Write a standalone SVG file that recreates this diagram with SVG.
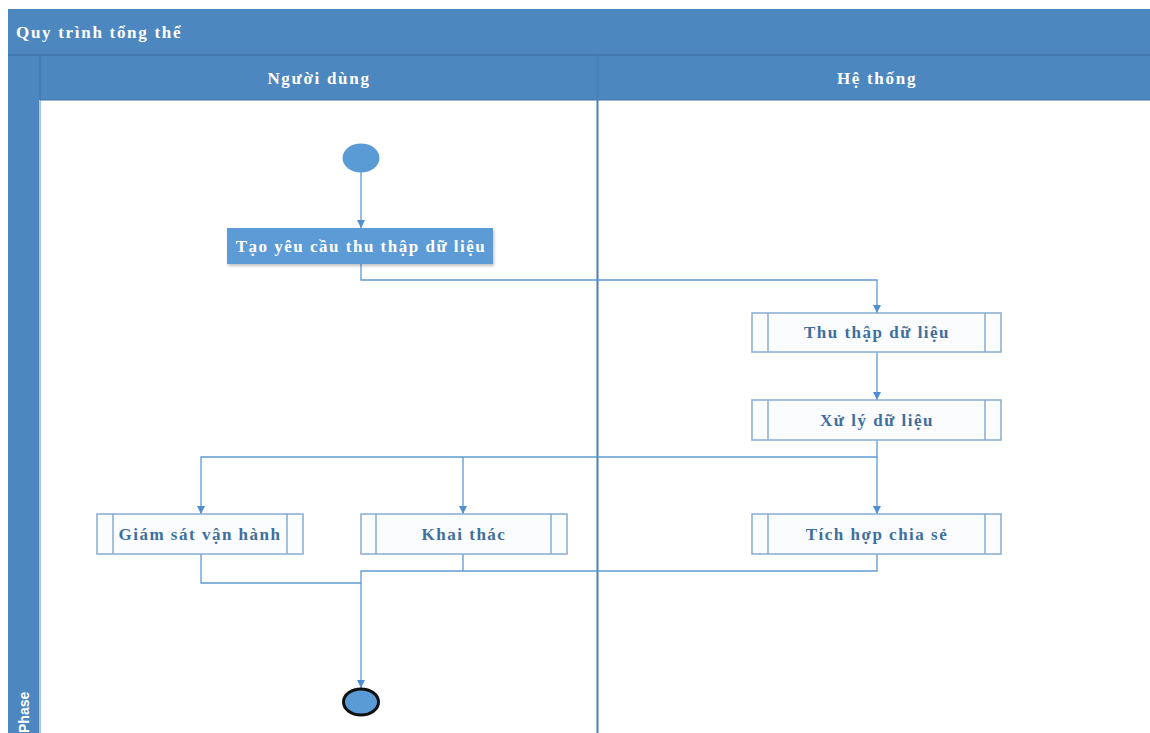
<svg xmlns="http://www.w3.org/2000/svg" width="1150" height="733" viewBox="0 0 1150 733">
<style>
.hdr{fill:#4d87bf}
.ttl{font-family:"Liberation Serif",serif;font-weight:bold;font-size:17px;fill:#ffffff;letter-spacing:1.7px}
.sub{fill:#fbfcfe;stroke:#88acd2;stroke-width:1.5}
.inner{stroke:#88acd2;stroke-width:1.5}
.lbl{font-family:"Liberation Serif",serif;font-weight:bold;font-size:17px;fill:#3e6f9e;letter-spacing:1.5px;text-anchor:middle}
.con{fill:none;stroke:#5f9ad2;stroke-width:1.3}
</style>
<defs>
<marker id="arr" viewBox="0 0 10 10" refX="10" refY="5" markerWidth="10" markerHeight="8" markerUnits="userSpaceOnUse" orient="auto">
<path d="M0,0 L10,5 L0,10 Z" fill="#4f8fcf"/>
</marker>
<filter id="sh" x="-10%" y="-20%" width="120%" height="150%">
<feDropShadow dx="1" dy="2" stdDeviation="1.5" flood-color="#000" flood-opacity="0.25"/>
</filter>
</defs>
<rect width="1150" height="733" fill="#ffffff"/>
<g id="pool">
<rect x="8" y="9" width="1142" height="724" class="hdr"/>
<rect x="40" y="100" width="1110" height="633" fill="#ffffff"/>
<line x1="40" y1="100" x2="40" y2="733" stroke="#a9c6e4" stroke-width="2"/>
<line x1="8" y1="55" x2="1150" y2="55" stroke="#3f73a8" stroke-width="1.5"/>
<line x1="40" y1="55" x2="40" y2="100" stroke="#3f73a8" stroke-width="1"/>
<line x1="40" y1="100" x2="1150" y2="100" stroke="#3f73a8" stroke-width="1"/>
<line x1="597.5" y1="55" x2="597.5" y2="733" stroke="#4a80b8" stroke-width="2"/>
<text x="16" y="38" class="ttl">Quy trình tổng thể</text>
<text x="319" y="84" class="ttl" text-anchor="middle">Người dùng</text>
<text x="877" y="84" class="ttl" text-anchor="middle">Hệ thống</text>
<text transform="translate(29,733) rotate(-90)" x="0" y="0" font-family="'Liberation Sans',sans-serif" font-weight="bold" font-size="14" fill="#ffffff">Phase</text>
</g>
<g id="connectors">
<line x1="361" y1="172" x2="361" y2="228" class="con" marker-end="url(#arr)"/>
<polyline points="361,264 361,280 877,280 877,313" class="con" marker-end="url(#arr)"/>
<line x1="877" y1="352" x2="877" y2="400" class="con" marker-end="url(#arr)"/>
<polyline points="877,440 877,457 201,457 201,514" class="con" marker-end="url(#arr)"/>
<line x1="463" y1="457" x2="463" y2="514" class="con" marker-end="url(#arr)"/>
<line x1="877" y1="457" x2="877" y2="514" class="con" marker-end="url(#arr)"/>
<polyline points="201,554 201,583 361,583" class="con"/>
<polyline points="463,554 463,571" class="con"/>
<polyline points="877,554 877,571 361,571 361,688" class="con" marker-end="url(#arr)"/>
</g>
<g id="start">
<ellipse cx="361" cy="158" rx="18.5" ry="14.5" fill="#5b9bd5"/>
</g>
<g id="n_tao">
<rect x="227" y="228" width="266" height="36" fill="#5b9bd5" filter="url(#sh)"/>
<text x="361" y="252" class="lbl" style="fill:#ffffff">Tạo yêu cầu thu thập dữ liệu</text>
</g>
<g id="n_thu">
<rect x="752" y="313" width="249" height="39" class="sub"/>
<line x1="768" y1="313" x2="768" y2="352" class="inner"/>
<line x1="985" y1="313" x2="985" y2="352" class="inner"/>
<text x="877" y="338" class="lbl">Thu thập dữ liệu</text>
</g>
<g id="n_xuly">
<rect x="752" y="400" width="249" height="40" class="sub"/>
<line x1="768" y1="400" x2="768" y2="440" class="inner"/>
<line x1="985" y1="400" x2="985" y2="440" class="inner"/>
<text x="877" y="426" class="lbl">Xử lý dữ liệu</text>
</g>
<g id="n_giamsat">
<rect x="97" y="514" width="206" height="40" class="sub"/>
<line x1="113" y1="514" x2="113" y2="554" class="inner"/>
<line x1="287" y1="514" x2="287" y2="554" class="inner"/>
<text x="200" y="540" class="lbl">Giám sát vận hành</text>
</g>
<g id="n_khaithac">
<rect x="361" y="514" width="206" height="40" class="sub"/>
<line x1="376" y1="514" x2="376" y2="554" class="inner"/>
<line x1="551" y1="514" x2="551" y2="554" class="inner"/>
<text x="464" y="540" class="lbl">Khai thác</text>
</g>
<g id="n_tichhop">
<rect x="752" y="514" width="249" height="40" class="sub"/>
<line x1="768" y1="514" x2="768" y2="554" class="inner"/>
<line x1="985" y1="514" x2="985" y2="554" class="inner"/>
<text x="877" y="540" class="lbl">Tích hợp chia sẻ</text>
</g>
<g id="end">
<ellipse cx="361" cy="702" rx="17.5" ry="13" fill="#5b9bd5" stroke="#111" stroke-width="3"/>
</g>
</svg>
